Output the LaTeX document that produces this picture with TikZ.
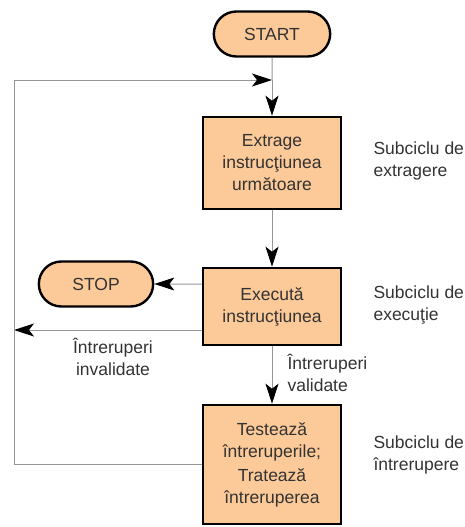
\documentclass[tikz,border=0pt]{standalone}
\usepackage{fontspec}
\setmainfont{Liberation Sans}
\usetikzlibrary{shapes.misc,arrows.meta}
\definecolor{peach}{RGB}{252,201,152}
\definecolor{ink}{RGB}{51,51,51}
\definecolor{wire}{RGB}{150,150,150}
\tikzset{
  txt/.style={font=\fontsize{17.5}{22}\selectfont, text=ink, align=center},
  term/.style={txt, rounded rectangle, draw=black, line width=2.4pt, fill=peach,
    minimum width=121pt, minimum height=45pt},
  stepbox/.style={txt, rectangle, draw=black, line width=2.6pt, fill=peach,
    minimum width=138pt, inner sep=0pt},
  conn/.style={draw=wire, line width=1pt,
    -{Stealth[length=20pt,width=13pt,inset=5pt,color=black,fill=black]}},
  wireline/.style={draw=wire, line width=1pt},
  note/.style={txt, align=left, anchor=west}
}
\begin{document}
\begin{tikzpicture}[x=1pt,y=-1pt]
  \useasboundingbox (0,0) rectangle (464,527);
  % blocks
  \node[term, minimum width=123pt] (start) at (272,34) {START};
  \node[stepbox, minimum height=92pt] (fetch) at (272,163)
    {Extrage\\instrucţiunea\\următoare};
  \node[stepbox, minimum height=77pt] (exec) at (272,306.5)
    {Execută\\instrucţiunea};
  \node[stepbox, minimum height=119pt] (intr) at (272,464.5)
    {Testează\\întreruperile;\\[2pt]Tratează\\întreruperea};
  \node[term] (stop) at (96,284) {STOP};
  % side notes
  \node[note] (nfetch) at (370,161) {Subciclu de\\extragere};
  \node[note] (nexec) at (370,305) {Subciclu de\\execuţie};
  \node[note] (nintr) at (370,455) {Subciclu de\\întrerupere};
  \node[txt] (ninv) at (113,357) {Întreruperi\\invalidate};
  \node[note] (nval) at (284,373) {Întreruperi\\validate};
  % free ends
  \coordinate (join) at (272,80);
  \coordinate (corner) at (14,80);
  \coordinate (inv) at (14,330);
  % connectors
  \draw[wireline] (start) -- (join);
  \draw[conn] (join) -- (fetch);
  \draw[conn] (fetch) -- (exec);
  \draw[conn] (exec) -- (intr);
  \draw[conn] (exec.west |- stop) -- (stop);
  \draw[conn] (exec.west |- inv) -- (inv);
  \draw[conn] (intr.west) -| (corner) -- (join);
\end{tikzpicture}
\end{document}
